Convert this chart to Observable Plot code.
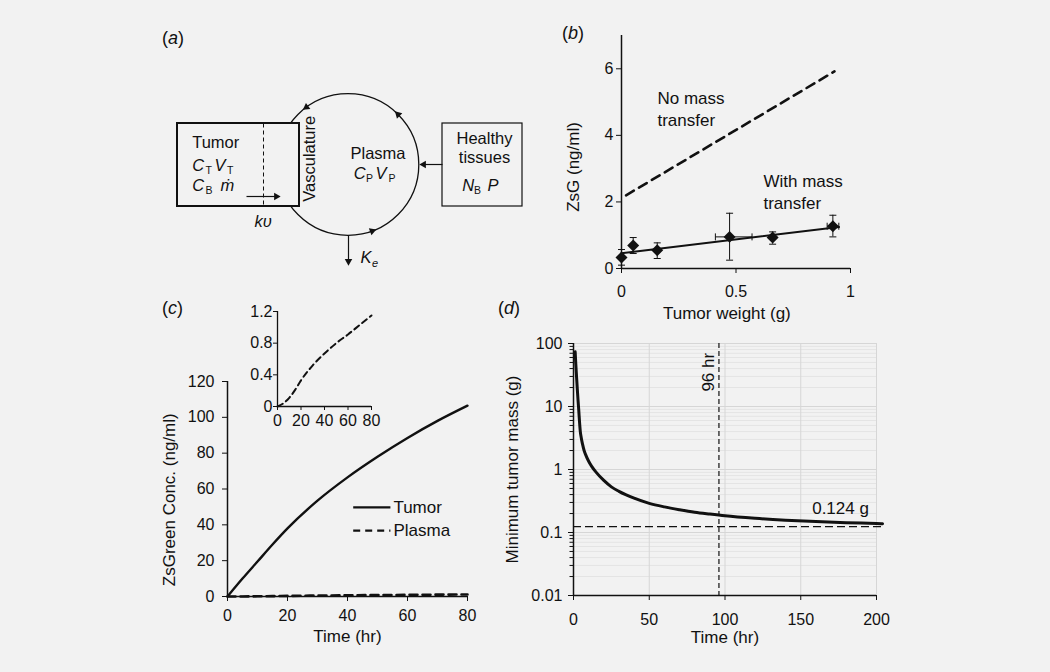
<!DOCTYPE html>
<html>
<head>
<meta charset="utf-8">
<script src="https://cdn.jsdelivr.net/npm/d3@7"></script>
<script src="https://cdn.jsdelivr.net/npm/@observablehq/plot@0.6"></script>
<style>
html, body { margin: 0; padding: 0; background: #f2f2f2; }
#fig { position: relative; width: 1050px; height: 672px; background: #f2f2f2; font-family: "Liberation Sans", Arial, sans-serif; color: #111; overflow: hidden; }
.panel { position: absolute; }
.panel svg { display: block; max-width: none; overflow: visible; }
.lab { position: absolute; font-size: 18px; line-height: 18px; white-space: nowrap; }
</style>
</head>
<body>
<div id="fig">
  <div class="panel" id="pa" style="left:160px;top:20px"></div>
  <div class="panel" id="pb" style="left:560px;top:20px"></div>
  <div class="panel" id="pc" style="left:160px;top:300px"></div>
  <div class="panel" id="pc2" style="left:240px;top:300px"></div>
  <div class="panel" id="pd" style="left:490px;top:310px"></div>
  <div class="lab" style="left:162px;top:29px">(<i>a</i>)</div>
  <div class="lab" style="left:562px;top:24px">(<i>b</i>)</div>
  <div class="lab" style="left:162px;top:299px">(<i>c</i>)</div>
  <div class="lab" style="left:498px;top:299px">(<i>d</i>)</div>
</div>
<script>
// ---------------- Panel (b): ZsG vs tumor weight ----------------
const bWeight      = [0, 0.051, 0.156, 0.472, 0.66, 0.923];
const bZsG         = [0.33, 0.69, 0.55, 0.95, 0.93, 1.27];
const bZsGLow      = [0.10, 0.45, 0.30, 0.25, 0.73, 0.95];
const bZsGHigh     = [0.57, 0.93, 0.77, 1.66, 1.10, 1.60];
const bWeightLow   = [0, 0.051, 0.156, 0.41, 0.66, 0.898];
const bWeightHigh  = [0, 0.051, 0.156, 0.57, 0.66, 0.949];
const bFitWeight   = [0, 0.95];
const bWithTransfer = [0.46, 1.25];
const bNoWeight    = [0.02, 0.93];
const bNoTransfer  = [2.2, 5.92];
const bTicksX = [0, 0.5, 1];
const bTicksY = [0, 2, 4, 6];
const bLabels = ["No mass", "transfer", "With mass", "transfer"];

// ---------------- Panel (c): ZsGreen concentration vs time ----------------
const cTime   = [0, 5, 10, 15, 20, 30, 40, 50, 60, 70, 80];
const cTumor  = [0, 10, 19.5, 29, 38, 53.5, 66.5, 78, 88.5, 98, 106.5];
const cPlasma = [0, 0.04, 0.11, 0.21, 0.33, 0.52, 0.67, 0.80, 0.91, 1.03, 1.15];
const cSeries = ["Tumor", "Plasma"];
const cTicksX = [0, 20, 40, 60, 80];
const cTicksY = [0, 20, 40, 60, 80, 100, 120];
const cInsetTicksY = [0, 0.4, 0.8, 1.2];

// ---------------- Panel (d): minimum tumor mass vs time ----------------
const dTime = [1.1, 1.5, 2, 2.5, 3, 3.5, 4, 4.5, 5, 6, 7, 8, 10, 12, 15, 20, 25, 30, 40, 50, 60, 70, 80, 90, 100, 120, 140, 160, 180, 200, 204];
const dMass = [74, 48, 30, 19, 12.5, 8.5, 5.6, 4.0, 3.3, 2.5, 2.0, 1.72, 1.35, 1.12, 0.9, 0.67, 0.53, 0.45, 0.35, 0.29, 0.255, 0.23, 0.21, 0.196, 0.184, 0.168, 0.157, 0.149, 0.143, 0.139, 0.138];
const dThreshold = 0.124;
const dCutTime = 96;
const dTicksX = [0, 50, 100, 150, 200];
const dTicksY = [0.01, 0.1, 1, 10, 100];

// ---------------- Panel (a): compartment diagram (diagram units) ----------------
const aBoxes = [
  {name: "tumor", x1: 17, x2: 139, y1: 103, y2: 186, w: 2},
  {name: "healthy", x1: 282, x2: 362, y1: 103, y2: 186, w: 1.2}
];
const aPlasma = [{cx: 187.5, cy: 144, r: 70.8}];
const aFlowAngles = [-126, -45, 70];
const aArrows = [
  {x1: 282, y1: 144, x2: 259, y2: 144},
  {x1: 86, y1: 176, x2: 120, y2: 176},
  {x1: 188, y1: 215, x2: 188, y2: 245}
];
const aDash = [{x1: 103, y1: 103, x2: 103, y2: 186}];
const aWords = [
  {t: "Tumor", x: 31.7, y: 122, a: "start"},
  {t: "Plasma", x: 217.5, y: 133, a: "middle"},
  {t: "Healthy", x: 324, y: 118.5, a: "middle"},
  {t: "tissues", x: 324, y: 137.5, a: "middle"}
];
const aSymbols = [
  {t: "C", x: 31.7, y: 145}, {t: "V", x: 54, y: 145},
  {t: "C", x: 31.7, y: 165}, {t: "ṁ", x: 60, y: 165},
  {t: "C", x: 193.3, y: 153.3}, {t: "V", x: 215, y: 153.3},
  {t: "N", x: 301.7, y: 165.7}, {t: "P", x: 327, y: 165.7},
  {t: "K", x: 200, y: 237.3}, {t: "kυ", x: 94, y: 201.7}
];
const aSubs = [
  {t: "T", x: 45, y: 150}, {t: "T", x: 66.5, y: 150},
  {t: "B", x: 45, y: 170},
  {t: "P", x: 205.5, y: 158}, {t: "P", x: 228, y: 158},
  {t: "B", x: 313.5, y: 170.5}
];
const aSubsItalic = [{t: "e", x: 211.5, y: 242.5}];
const aRotated = [{t: "Vasculature", x: 149.7, y: 138.3}];

// ---------------- shared ----------------
const FONT = '"Liberation Sans", Arial, sans-serif';
const INK = "#111";
const BG = "#f2f2f2";
const TITLE = 17;
const baseStyle = {fontFamily: FONT, fontSize: "16px", background: "none", color: INK, overflow: "visible"};
const capH = {draw(ctx, size) { const r = Math.sqrt(size / Math.PI); ctx.moveTo(-r, 0); ctx.lineTo(r, 0); }};
const capV = {draw(ctx, size) { const r = Math.sqrt(size / Math.PI); ctx.moveTo(0, -r); ctx.lineTo(0, r); }};

// ---------------- draw (a) ----------------
{
  const heads = aArrows.map(d => {
    const L = Math.hypot(d.x2 - d.x1, d.y2 - d.y1), ux = (d.x2 - d.x1) / L, uy = (d.y2 - d.y1) / L;
    return {x: d.x2 - ux * 4.2, y: d.y2 - uy * 4.2, rot: Math.atan2(ux, -uy) * 180 / Math.PI};
  });
  const c = aPlasma[0];
  const flow = aFlowAngles.map(a => ({x: c.cx + c.r * Math.cos(a * Math.PI / 180), y: c.cy + c.r * Math.sin(a * Math.PI / 180), rot: a}));
  const shafts = aArrows.map((d, i) => ({x1: d.x1, y1: d.y1, x2: heads[i].x, y2: heads[i].y}));
  const plot = Plot.plot({
    width: 380, height: 270, margin: 0,
    x: {domain: [0, 380], range: [0, 380], axis: null},
    y: {domain: [0, 270], range: [0, 270], axis: null},
    style: baseStyle,
    marks: [
      Plot.dot(aPlasma, {x: "cx", y: "cy", r: c.r, stroke: INK, strokeWidth: 1.3, fill: "none"}),
      Plot.rect(aBoxes, {x1: "x1", x2: "x2", y1: "y1", y2: "y2", fill: BG, stroke: INK, strokeWidth: "w"}),
      Plot.link(aDash, {x1: "x1", y1: "y1", x2: "x2", y2: "y2", stroke: INK, strokeWidth: 1, strokeDasharray: "4,3"}),
      Plot.link(shafts, {x1: "x1", y1: "y1", x2: "x2", y2: "y2", stroke: INK, strokeWidth: 1.2}),
      Plot.dot(heads, {x: "x", y: "y", rotate: "rot", symbol: "triangle", r: 2.8, fill: INK, stroke: "none"}),
      Plot.dot(flow, {x: "x", y: "y", rotate: "rot", symbol: "triangle", r: 2.8, fill: INK, stroke: "none"}),
      Plot.text(aWords, {x: "x", y: "y", text: "t", textAnchor: "start", fontSize: 16.5, filter: d => d.a === "start", fill: INK}),
      Plot.text(aWords, {x: "x", y: "y", text: "t", textAnchor: "middle", fontSize: 16.5, filter: d => d.a === "middle", fill: INK}),
      Plot.text(aSymbols, {x: "x", y: "y", text: "t", textAnchor: "start", fontSize: 16.5, fontStyle: "italic", fill: INK}),
      Plot.text(aSubs, {x: "x", y: "y", text: "t", textAnchor: "start", fontSize: 10.5, fill: INK}),
      Plot.text(aSubsItalic, {x: "x", y: "y", text: "t", textAnchor: "start", fontSize: 11, fontStyle: "italic", fill: INK}),
      Plot.text(aRotated, {x: "x", y: "y", text: "t", rotate: -90, fontSize: 16.5, fill: INK})
    ]
  });
  document.getElementById("pa").append(plot);
}

// ---------------- draw (b) ----------------
{
  const pts = bWeight.map((w, i) => ({w, z: bZsG[i], zl: bZsGLow[i], zh: bZsGHigh[i], wl: bWeightLow[i], wh: bWeightHigh[i]}));
  const xErr = pts.filter(d => d.wh > d.wl);
  const fit = bFitWeight.map((w, i) => ({w, z: bWithTransfer[i]}));
  const noFit = bNoWeight.map((w, i) => ({w, z: bNoTransfer[i]}));
  const labs = [
    {t: bLabels[0], w: 0.157, z: 5.1}, {t: bLabels[1], w: 0.157, z: 4.45},
    {t: bLabels[2], w: 0.62, z: 2.6}, {t: bLabels[3], w: 0.62, z: 1.96}
  ];
  const plot = Plot.plot({
    width: 320, height: 310, marginLeft: 61, marginRight: 30, marginTop: 15, marginBottom: 62,
    x: {domain: [0, 1]}, y: {domain: [0, 7]},
    style: baseStyle,
    marks: [
      Plot.axisX({ticks: bTicksX, tickSize: 5, tickPadding: 12, tickFormat: d => String(d), label: null, fontSize: 16}),
      Plot.axisY({ticks: bTicksY, tickSize: 5, tickPadding: 3, tickFormat: d => String(d), label: null, fontSize: 16}),
      Plot.ruleX([0], {stroke: INK, strokeWidth: 1.5}),
      Plot.ruleY([0], {stroke: INK, strokeWidth: 1.5}),
      Plot.line(noFit, {x: "w", y: "z", stroke: INK, strokeWidth: 2.6, strokeDasharray: "9,6"}),
      Plot.line(fit, {x: "w", y: "z", stroke: INK, strokeWidth: 2}),
      Plot.ruleX(pts, {x: "w", y1: "zl", y2: "zh", stroke: INK, strokeWidth: 1}),
      Plot.dot(pts, {x: "w", y: "zl", symbol: capH, r: 3.5, stroke: INK, strokeWidth: 1}),
      Plot.dot(pts, {x: "w", y: "zh", symbol: capH, r: 3.5, stroke: INK, strokeWidth: 1}),
      Plot.link(xErr, {x1: "wl", x2: "wh", y1: "z", y2: "z", stroke: INK, strokeWidth: 1}),
      Plot.dot(xErr, {x: "wl", y: "z", symbol: capV, r: 3.5, stroke: INK, strokeWidth: 1}),
      Plot.dot(xErr, {x: "wh", y: "z", symbol: capV, r: 3.5, stroke: INK, strokeWidth: 1}),
      Plot.dot(pts, {x: "w", y: "z", symbol: "diamond2", r: 5.4, fill: INK, stroke: "none"}),
      Plot.text(labs, {x: "w", y: "z", text: "t", textAnchor: "start", fontSize: TITLE, fill: INK}),
      Plot.text(["ZsG (ng/ml)"], {frameAnchor: "left", y: 3.05, rotate: -90, dx: -48, textAnchor: "middle", lineAnchor: "middle", fontSize: TITLE, fill: INK}),
      Plot.text(["Tumor weight (g)"], {frameAnchor: "bottom", x: 0.46, dy: 45, textAnchor: "middle", lineAnchor: "middle", fontSize: TITLE, fill: INK})
    ]
  });
  document.getElementById("pb").append(plot);
}

// ---------------- draw (c) ----------------
{
  const rows = cTime.flatMap((t, i) => [
    {t, v: cTumor[i], s: cSeries[0]},
    {t, v: cPlasma[i], s: cSeries[1]}
  ]);
  const legend = [
    {s: cSeries[0], x1: 41.9, x2: 54.3, y: 49.7, dash: null},
    {s: cSeries[1], x1: 41.9, x2: 54.3, y: 36.8, dash: "7,5"}
  ];
  const plot = Plot.plot({
    width: 330, height: 360, marginLeft: 67, marginRight: 23, marginTop: 81, marginBottom: 64,
    x: {domain: [0, 80]}, y: {domain: [0, 120]},
    style: baseStyle,
    marks: [
      Plot.axisX({ticks: cTicksX, tickSize: 5, tickPadding: 8, tickFormat: d => String(d), label: null, fontSize: 16}),
      Plot.axisY({ticks: cTicksY, tickSize: 5, tickPadding: 8, tickFormat: d => String(d), label: null, fontSize: 16}),
      Plot.ruleX([0], {stroke: INK, strokeWidth: 1.5}),
      Plot.ruleY([0], {stroke: INK, strokeWidth: 1.5}),
      Plot.line(rows.filter(d => d.s === cSeries[1]), {x: "t", y: "v", stroke: INK, strokeWidth: 2.6, strokeDasharray: "8,5", curve: "monotone-x"}),
      Plot.line(rows.filter(d => d.s === cSeries[0]), {x: "t", y: "v", stroke: INK, strokeWidth: 2.4, curve: "monotone-x"}),
      Plot.link(legend.filter(d => !d.dash), {x1: "x1", x2: "x2", y1: "y", y2: "y", stroke: INK, strokeWidth: 2.2}),
      Plot.link(legend.filter(d => d.dash), {x1: "x1", x2: "x2", y1: "y", y2: "y", stroke: INK, strokeWidth: 2.2, strokeDasharray: "7,5"}),
      Plot.text(legend, {x: "x2", y: "y", text: "s", dx: 3, textAnchor: "start", fontSize: TITLE, fill: INK}),
      Plot.text(["ZsGreen Conc. (ng/ml)"], {frameAnchor: "left", y: 54, rotate: -90, dx: -58, textAnchor: "middle", lineAnchor: "middle", fontSize: TITLE, fill: INK}),
      Plot.text(["Time (hr)"], {frameAnchor: "bottom", x: 40, dy: 40, textAnchor: "middle", lineAnchor: "middle", fontSize: TITLE, fill: INK})
    ]
  });
  document.getElementById("pc").append(plot);

  const inset = Plot.plot({
    width: 150, height: 130, marginLeft: 37, marginRight: 19, marginTop: 11, marginBottom: 24,
    x: {domain: [0, 80]}, y: {domain: [0, 1.2]},
    style: {...baseStyle, fontSize: "16px"},
    marks: [
      Plot.axisX({ticks: cTicksX, tickSize: 4, tickPadding: 4, tickFormat: d => String(d), label: null, fontSize: 16}),
      Plot.axisY({ticks: cInsetTicksY, tickSize: 4, tickPadding: 1, tickFormat: d => String(d), label: null, fontSize: 16}),
      Plot.ruleX([0], {stroke: INK, strokeWidth: 1.3}),
      Plot.ruleY([0], {stroke: INK, strokeWidth: 1.3}),
      Plot.line(rows.filter(d => d.s === cSeries[1]), {x: "t", y: "v", stroke: INK, strokeWidth: 2, strokeDasharray: "6,4", curve: "monotone-x"})
    ]
  });
  document.getElementById("pc2").append(inset);
}

// ---------------- draw (d) ----------------
{
  const curve = dTime.map((t, i) => ({t, m: dMass[i]}));
  const minor = d3.scaleLog().domain([0.01, 100]).ticks().filter(v => !dTicksY.some(M => Math.abs(M - v) / M < 1e-9));
  const gridX = dTicksX.filter(v => v > 0);
  const plot = Plot.plot({
    width: 400, height: 350, marginLeft: 83, marginRight: 14, marginTop: 33, marginBottom: 65,
    x: {domain: [0, 200]}, y: {type: "log", domain: [0.01, 100]},
    style: baseStyle,
    marks: [
      Plot.ruleY(minor, {stroke: "#e4e4e4", strokeWidth: 1}),
      Plot.ruleY(dTicksY, {stroke: "#d6d6d6", strokeWidth: 1}),
      Plot.ruleX(gridX, {stroke: "#d6d6d6", strokeWidth: 1}),
      Plot.axisX({ticks: dTicksX, tickSize: 5, tickPadding: 13, tickFormat: d => String(d), label: null, fontSize: 16}),
      Plot.axisY({ticks: dTicksY, tickSize: 5, tickPadding: 6, tickFormat: d => String(d), label: null, fontSize: 16}),
      Plot.axisY({ticks: minor, tickSize: 3.5, tickFormat: () => "", label: null}),
      Plot.ruleX([0], {stroke: INK, strokeWidth: 1.5}),
      Plot.ruleY([0.01], {stroke: INK, strokeWidth: 1.5}),
      Plot.ruleY([dThreshold], {x1: 0, x2: 204, stroke: INK, strokeWidth: 1.2, strokeDasharray: "8,4"}),
      Plot.ruleX([dCutTime], {stroke: INK, strokeWidth: 1.2, strokeDasharray: "5,3"}),
      Plot.line(curve, {x: "t", y: "m", stroke: INK, strokeWidth: 3, curve: "monotone-x"}),
      Plot.text([`${dCutTime} hr`], {x: dCutTime, y: 35, rotate: -90, dx: -10.5, textAnchor: "middle", lineAnchor: "middle", fontSize: TITLE, fill: INK}),
      Plot.text([`${dThreshold} g`], {x: 195, y: dThreshold, dy: -18, textAnchor: "end", lineAnchor: "middle", fontSize: TITLE, fill: INK}),
      Plot.text(["Minimum tumor mass (g)"], {frameAnchor: "left", rotate: -90, dx: -61, textAnchor: "middle", lineAnchor: "middle", fontSize: TITLE, fill: INK}),
      Plot.text(["Time (hr)"], {frameAnchor: "bottom", x: 100, dy: 42, textAnchor: "middle", lineAnchor: "middle", fontSize: TITLE, fill: INK})
    ]
  });
  document.getElementById("pd").append(plot);
}
</script>
</body>
</html>
